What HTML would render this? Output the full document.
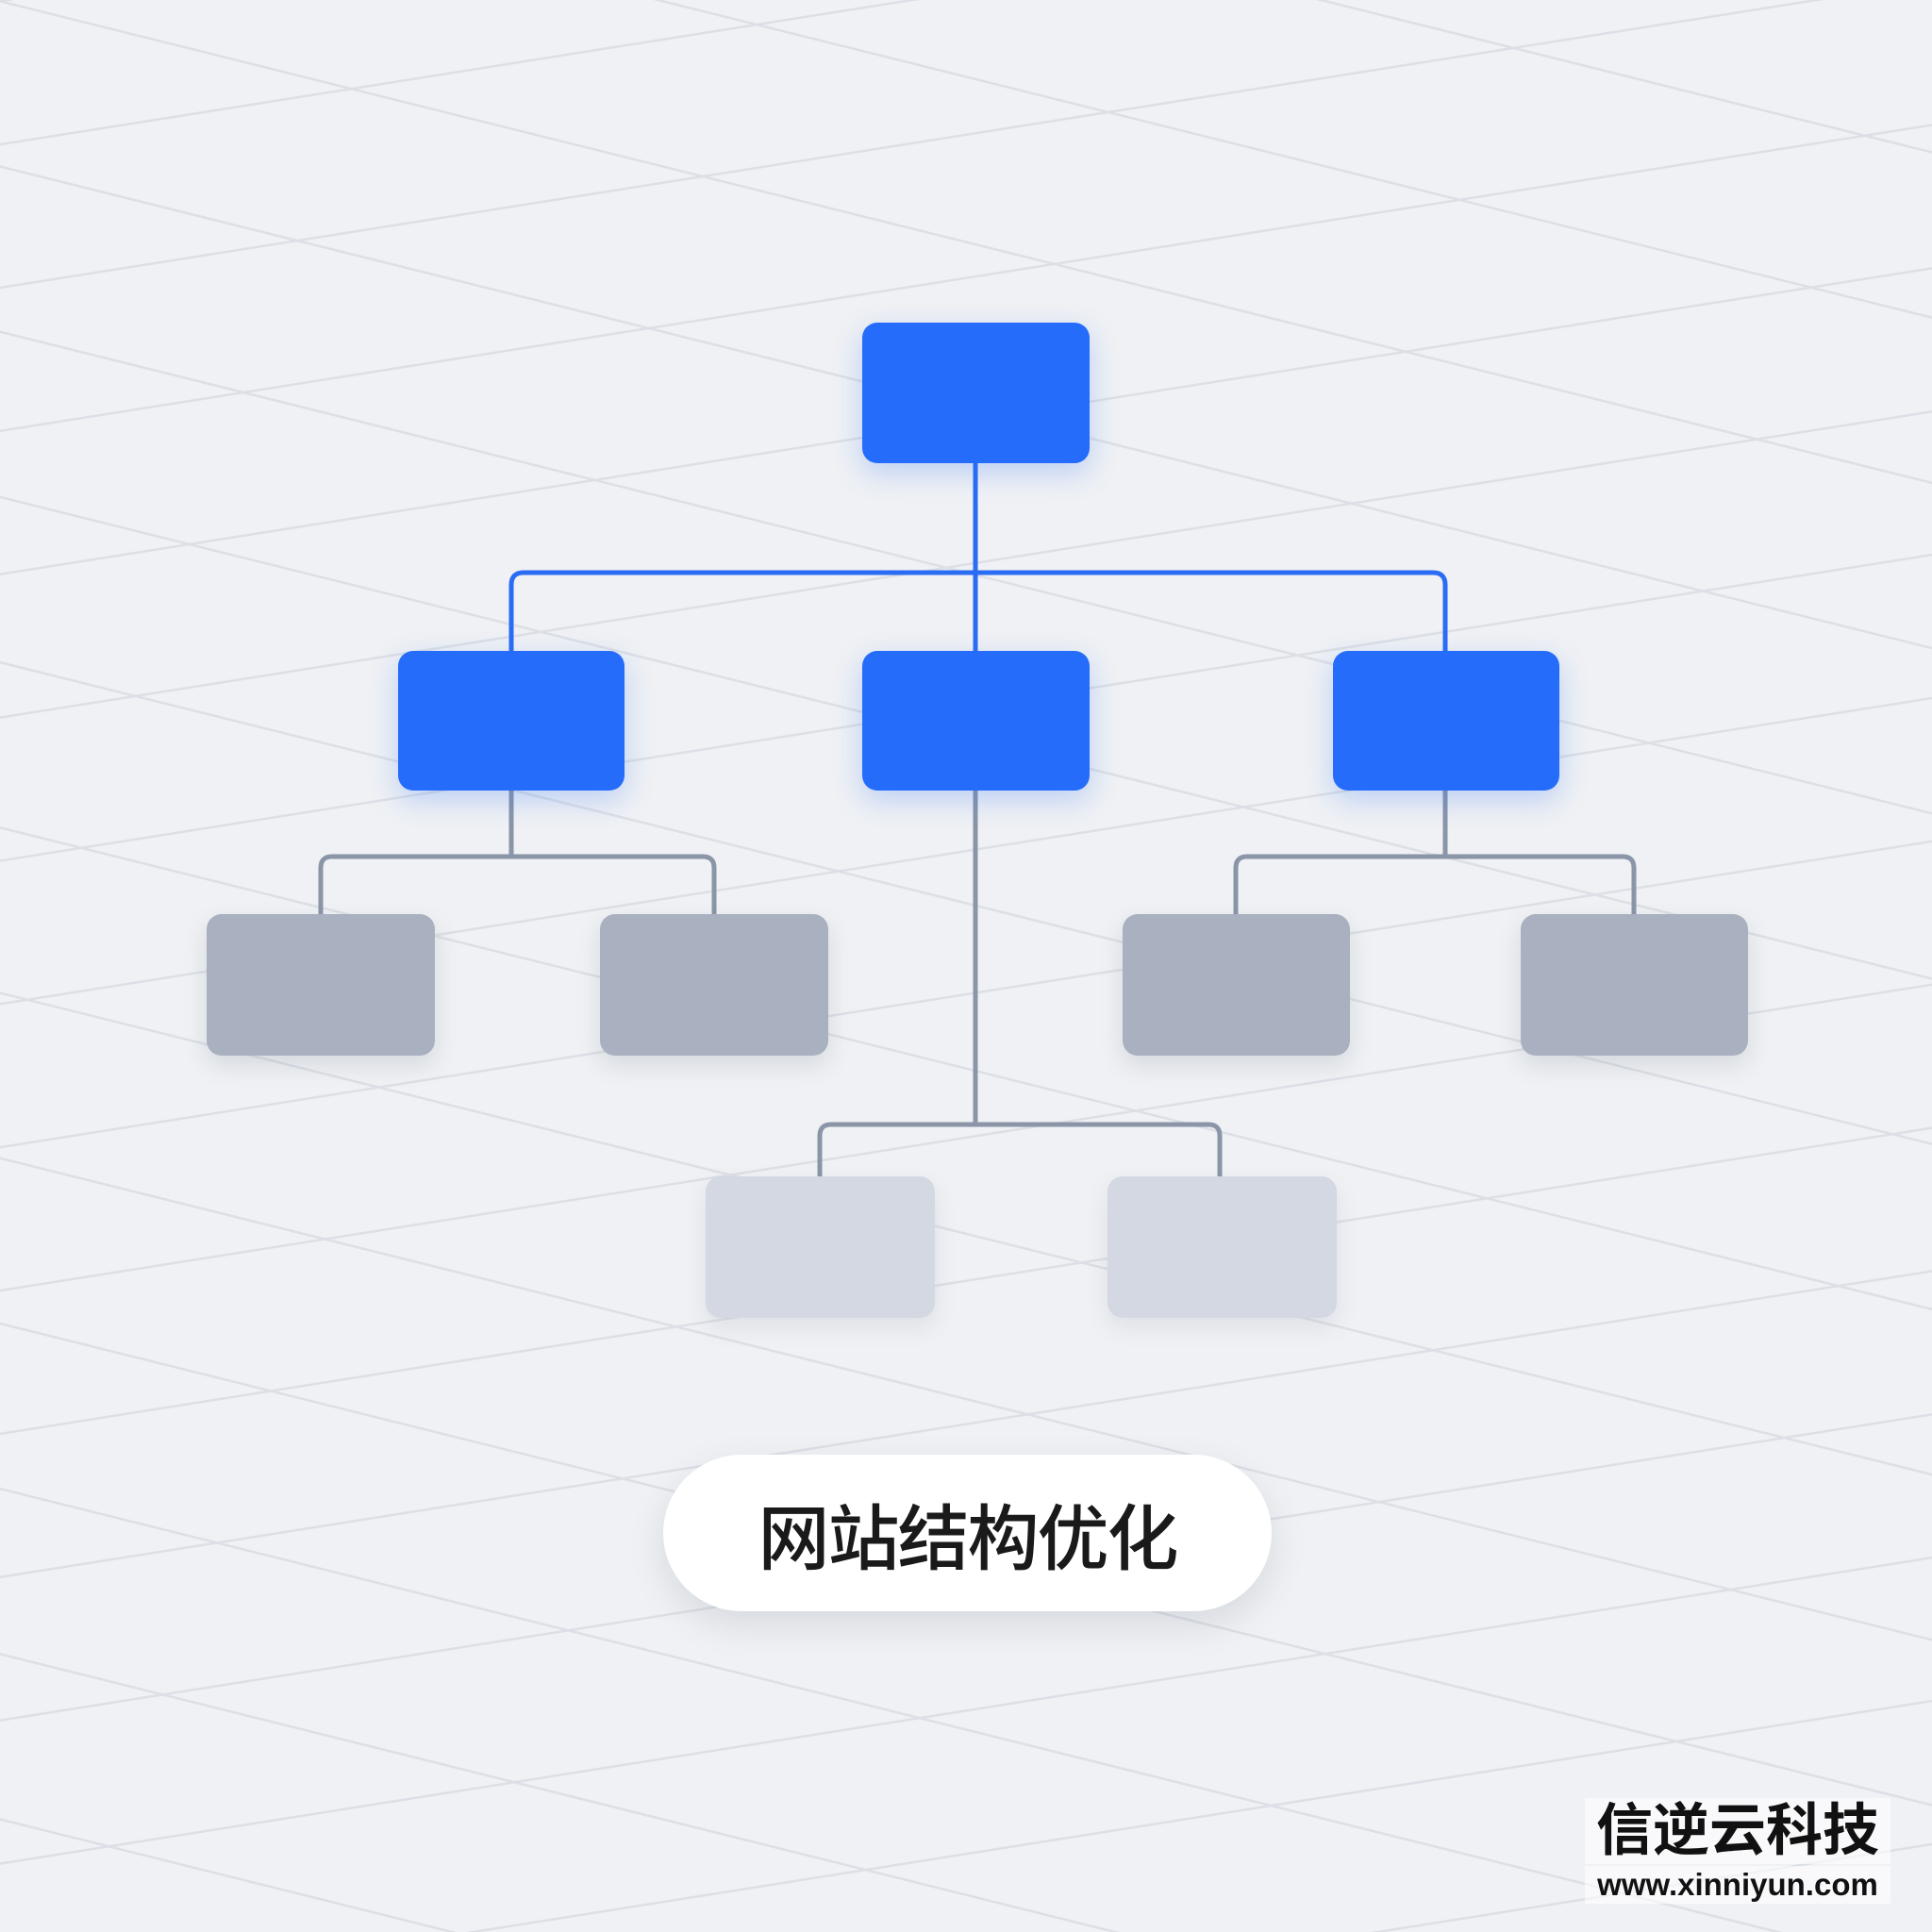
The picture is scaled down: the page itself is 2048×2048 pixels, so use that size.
<!DOCTYPE html>
<html><head><meta charset="utf-8"><style>
html,body{margin:0;padding:0}
body{width:2048px;height:2048px;background:#eff1f4;position:relative;overflow:hidden;font-family:"Liberation Sans","Noto Sans CJK SC",sans-serif}
.n{position:absolute;border-radius:16px}
.b{background:#256cfb;box-shadow:0 10px 30px rgba(37,108,251,0.25)}
.g{background:#a9b0bf;box-shadow:0 10px 24px rgba(100,110,130,0.18)}
.l{background:#d3d8e2;box-shadow:0 10px 24px rgba(100,110,130,0.12)}
svg{position:absolute;left:0;top:0}
</style></head><body>
<svg width="2048" height="2048">
<defs>
<pattern id="pa" width="4000" height="150" patternUnits="userSpaceOnUse" patternTransform="rotate(-9)">
<line x1="0" y1="1" x2="4000" y2="1" stroke="#dcdfe5" stroke-width="3"/>
</pattern>
<pattern id="pb" width="4000" height="170" patternUnits="userSpaceOnUse" patternTransform="rotate(14)">
<line x1="0" y1="1" x2="4000" y2="1" stroke="#dcdfe5" stroke-width="3"/>
</pattern>
</defs>
<rect width="2048" height="2048" fill="url(#pa)"/>
<rect width="2048" height="2048" fill="url(#pb)"/>
<g stroke="#2a6cf3" stroke-width="5" fill="none">
<line x1="1034" y1="490" x2="1034" y2="690"/>
<path d="M542 690 V620 Q542 607 555 607 H1519 Q1532 607 1532 620 V690"/>
</g>
<g stroke="#8a95a8" stroke-width="5" fill="none">
<line x1="542" y1="838" x2="542" y2="908"/>
<path d="M340 969 V920 Q340 908 352 908 H745 Q757 908 757 920 V969"/>
<line x1="1532" y1="838" x2="1532" y2="908"/>
<path d="M1310 969 V920 Q1310 908 1322 908 H1720 Q1732 908 1732 920 V969"/>
<line x1="1034" y1="838" x2="1034" y2="1192"/>
<path d="M869 1247 V1204 Q869 1192 881 1192 H1281 Q1293 1192 1293 1204 V1247"/>
</g>
</svg>
<div class="n b" style="left:914px;top:342px;width:241px;height:149px"></div>
<div class="n b" style="left:422px;top:690px;width:240px;height:148px"></div>
<div class="n b" style="left:914px;top:690px;width:241px;height:148px"></div>
<div class="n b" style="left:1413px;top:690px;width:240px;height:148px"></div>
<div class="n g" style="left:219px;top:969px;width:242px;height:150px"></div>
<div class="n g" style="left:636px;top:969px;width:242px;height:150px"></div>
<div class="n g" style="left:1190px;top:969px;width:241px;height:150px"></div>
<div class="n g" style="left:1612px;top:969px;width:241px;height:150px"></div>
<div class="n l" style="left:748px;top:1247px;width:243px;height:150px"></div>
<div class="n l" style="left:1174px;top:1247px;width:243px;height:150px"></div>
<div style="position:absolute;left:703px;top:1542px;width:645px;height:166px;border-radius:83px;background:#fff;box-shadow:0 14px 36px rgba(80,90,110,0.15);display:flex;align-items:center;justify-content:center;font-size:76px;font-weight:500;color:#1a1a1a;letter-spacing:-2px">网站结构优化</div>
<div style="position:absolute;left:1680px;top:1906px;width:324px;text-align:center;font-size:60px;font-weight:bold;color:#111;line-height:70px;background:rgba(255,255,255,0.6)">信逆云科技</div>
<div style="position:absolute;left:1680px;top:1978px;width:324px;text-align:center;font-size:33px;font-weight:bold;color:#111;line-height:40px;background:rgba(255,255,255,0.6)">www.xinniyun.com</div>
</body></html>
